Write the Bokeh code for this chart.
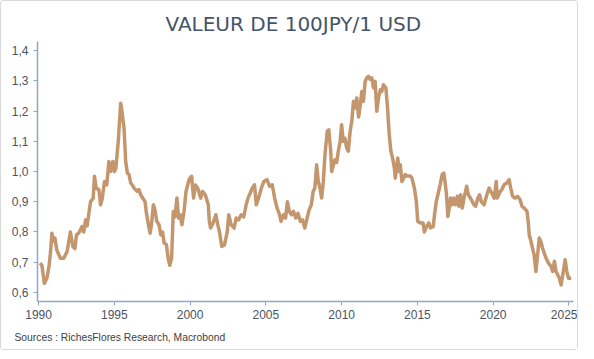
from bokeh.plotting import figure
from bokeh.models import FixedTicker, CustomJSTickFormatter, Range1d, Title
from bokeh.embed import file_html
from bokeh.resources import INLINE

title_text = "VALEUR DE 100JPY/1 USD"
source_text = "Sources : RichesFlores Research, Macrobond"

x_ticks = [1990, 1995, 2000, 2005, 2010, 2015, 2020, 2025]
y_ticks = [0.6, 0.7, 0.8, 0.9, 1.0, 1.1, 1.2, 1.3, 1.4]

dates_1990s = [1990.1, 1990.22, 1990.38, 1990.55, 1990.7, 1990.8, 1990.88, 1990.98, 1991.08, 1991.2,
               1991.44, 1991.66, 1991.88, 1992.1, 1992.27, 1992.4, 1992.5, 1992.65, 1992.87, 1992.98,
               1993.1, 1993.2, 1993.43, 1993.6, 1993.69, 1993.8, 1993.98, 1994.09, 1994.2, 1994.35,
               1994.5, 1994.64, 1994.75, 1994.82, 1994.9, 1995.0, 1995.1, 1995.26, 1995.42, 1995.5,
               1995.64, 1995.75, 1995.86, 1995.97, 1996.08, 1996.19, 1996.3, 1996.5, 1996.62, 1996.74,
               1996.9, 1997.03, 1997.1, 1997.25, 1997.36, 1997.45, 1997.58, 1997.69, 1997.8, 1997.95,
               1998.07, 1998.18, 1998.29, 1998.44, 1998.55, 1998.66, 1998.78, 1998.89, 1999.0, 1999.13,
               1999.24, 1999.35, 1999.46, 1999.6, 1999.73, 1999.9, 1999.98]
values_1990s = [0.697, 0.69, 0.63, 0.647, 0.69, 0.74, 0.796, 0.77, 0.78, 0.741,
                0.713, 0.713, 0.735, 0.80, 0.752, 0.745, 0.79, 0.796, 0.818, 0.80,
                0.84, 0.82, 0.90, 0.91, 0.984, 0.945, 0.94, 0.89, 0.91, 0.967,
                0.956, 1.033, 1.0, 1.02, 1.033, 1.00, 1.01, 1.10, 1.226, 1.20,
                1.144, 1.033, 0.995, 0.99, 0.962, 0.955, 0.945, 0.935, 0.94, 0.923,
                0.91, 0.90, 0.868, 0.824, 0.796, 0.824, 0.89, 0.87, 0.835, 0.824,
                0.79, 0.80, 0.763, 0.758, 0.713, 0.69, 0.713, 0.868, 0.85, 0.912,
                0.846, 0.857, 0.824, 0.868, 0.934, 0.967, 0.978]

dates_2000s = [2000.1, 2000.23, 2000.35, 2000.5, 2000.7, 2000.82, 2001.0, 2001.2, 2001.27, 2001.35,
               2001.52, 2001.7, 2001.82, 2001.94, 2002.09, 2002.27, 2002.45, 2002.55, 2002.7, 2002.9,
               2003.04, 2003.2, 2003.37, 2003.54, 2003.7, 2003.82, 2003.97, 2004.1, 2004.25, 2004.37,
               2004.52, 2004.7, 2004.87, 2005.07, 2005.25, 2005.42, 2005.58, 2005.74, 2005.9, 2006.0,
               2006.16, 2006.3, 2006.42, 2006.55, 2006.7, 2006.82, 2006.98, 2007.12, 2007.28, 2007.42,
               2007.57, 2007.72, 2007.86, 2008.0, 2008.12, 2008.23, 2008.35, 2008.46, 2008.57, 2008.68,
               2008.79, 2008.9, 2009.05, 2009.15, 2009.28, 2009.34, 2009.45, 2009.56, 2009.67, 2009.78,
               2009.9]
values_2000s = [0.984, 0.912, 0.955, 0.945, 0.912, 0.934, 0.923, 0.89, 0.835, 0.813,
                0.83, 0.857, 0.825, 0.80, 0.752, 0.757, 0.80, 0.857, 0.825, 0.813,
                0.846, 0.84, 0.857, 0.85, 0.89, 0.912, 0.929, 0.945, 0.956, 0.89,
                0.912, 0.945, 0.967, 0.973, 0.951, 0.956, 0.912, 0.879, 0.857, 0.835,
                0.857, 0.846, 0.90, 0.868, 0.857, 0.868, 0.846, 0.862, 0.835, 0.84,
                0.813, 0.846, 0.874, 0.89, 0.934, 0.945, 1.022, 0.967, 0.945, 0.912,
                0.967, 1.056, 1.133, 1.138, 1.067, 1.0, 1.02, 1.039, 1.03, 1.067,
                1.10]

dates_2010s = [2010.0, 2010.1, 2010.22, 2010.33, 2010.44, 2010.56, 2010.67, 2010.78, 2010.89, 2011.0,
               2011.12, 2011.23, 2011.33, 2011.44, 2011.55, 2011.66, 2011.77, 2011.88, 2011.99, 2012.1,
               2012.21, 2012.32, 2012.43, 2012.55, 2012.65, 2012.76, 2012.92, 2013.03, 2013.14, 2013.25,
               2013.36, 2013.48, 2013.54, 2013.7, 2013.8, 2013.87, 2013.98, 2014.09, 2014.2, 2014.3,
               2014.53, 2014.64, 2014.8, 2014.93, 2015.02, 2015.2, 2015.37, 2015.46, 2015.6, 2015.75,
               2015.86, 2016.04, 2016.13, 2016.24, 2016.35, 2016.5, 2016.63, 2016.74, 2016.82, 2016.92,
               2017.01, 2017.1, 2017.19, 2017.3, 2017.4, 2017.52, 2017.63, 2017.74, 2017.85, 2017.96,
               2018.07, 2018.25, 2018.36, 2018.5, 2018.73, 2018.84, 2018.99, 2019.1, 2019.22, 2019.4,
               2019.58, 2019.73, 2019.84, 2019.96]
values_2010s = [1.155, 1.10, 1.11, 1.078, 1.067, 1.133, 1.166, 1.232, 1.21, 1.243,
                1.18, 1.22, 1.265, 1.232, 1.298, 1.31, 1.315, 1.305, 1.31, 1.276,
                1.298, 1.199, 1.243, 1.27, 1.265, 1.287, 1.276, 1.21, 1.122, 1.067,
                1.045, 1.011, 0.978, 1.045, 1.0, 1.022, 0.967, 0.978, 0.99, 0.985,
                0.985, 0.978, 0.945, 0.90, 0.835, 0.83, 0.83, 0.80, 0.818, 0.83,
                0.813, 0.818, 0.857, 0.90, 0.923, 0.956, 0.99, 0.995, 0.967, 0.923,
                0.851, 0.88, 0.912, 0.89, 0.912, 0.89, 0.918, 0.885, 0.923, 0.879,
                0.912, 0.951, 0.923, 0.912, 0.89, 0.885, 0.912, 0.923, 0.90, 0.89,
                0.923, 0.945, 0.934, 0.923]

dates_2020s = [2020.07, 2020.2, 2020.27, 2020.46, 2020.57, 2020.72, 2020.9, 2021.05, 2021.16, 2021.28,
               2021.44, 2021.6, 2021.77, 2021.9, 2022.05, 2022.23, 2022.31, 2022.38, 2022.49, 2022.6,
               2022.7, 2022.82, 2022.93, 2023.04, 2023.15, 2023.26, 2023.37, 2023.49, 2023.65, 2023.82,
               2023.93, 2024.04, 2024.15, 2024.26, 2024.37, 2024.48, 2024.59, 2024.75, 2024.86, 2024.97,
               2025.15]
values_2020s = [0.912, 0.967, 0.912, 0.934, 0.94, 0.956, 0.962, 0.973, 0.945, 0.918,
                0.912, 0.918, 0.907, 0.885, 0.879, 0.868, 0.835, 0.79, 0.77, 0.746,
                0.724, 0.669, 0.724, 0.78, 0.768, 0.746, 0.73, 0.713, 0.697, 0.686,
                0.669, 0.703, 0.669, 0.658, 0.647, 0.625, 0.658, 0.708, 0.669, 0.647,
                0.647]

dates = dates_1990s + dates_2000s + dates_2010s + dates_2020s
values = values_1990s + values_2000s + values_2010s + values_2020s

AXIS_COLOR = "#8ea6c9"
LABEL_COLOR = "#4a5463"
LINE_COLOR = "#c4966e"

p = figure(width=578, height=350, output_backend="svg", toolbar_location=None,
           x_range=Range1d(1989.93, 2025.3), y_range=Range1d(0.57, 1.43),
           min_border_left=36, min_border_right=6, min_border_top=40, min_border_bottom=50)
p.styles = {"border": "1px solid #d9d9d9", "border-radius": "3px", "box-sizing": "border-box"}

p.line(dates, values, line_color=LINE_COLOR, line_width=3.5, line_join="round")

p.outline_line_color = None
p.xgrid.grid_line_color = None
p.ygrid.grid_line_color = None

for ax in (p.xaxis, p.yaxis):
    ax.axis_line_color = AXIS_COLOR
    ax.axis_line_width = 1.5
    ax.major_tick_line_color = AXIS_COLOR
    ax.major_tick_out = 4
    ax.major_tick_in = 0
    ax.minor_tick_line_color = None
    ax.major_label_text_color = LABEL_COLOR
    ax.major_label_text_font = "Liberation Sans"
    ax.major_label_text_font_size = "12px"

p.xaxis.ticker = FixedTicker(ticks=x_ticks)
p.xaxis.major_label_standoff = 4
p.yaxis.ticker = FixedTicker(ticks=y_ticks)
p.yaxis.major_label_standoff = 5
p.yaxis.formatter = CustomJSTickFormatter(code="return tick.toFixed(1).replace('.', ',');")

p.add_layout(Title(text=title_text, align="left", text_font="DejaVu Sans",
                   text_font_size="20px", text_font_style="normal", text_color="#44546a",
                   standoff=11, offset=128), "above")
p.add_layout(Title(text=source_text, align="left", text_font="Liberation Sans",
                   text_font_size="10.3px", text_font_style="normal", text_color="#404040",
                   standoff=16, offset=-23), "below")

open("out.html", "w").write(file_html(p, INLINE))
